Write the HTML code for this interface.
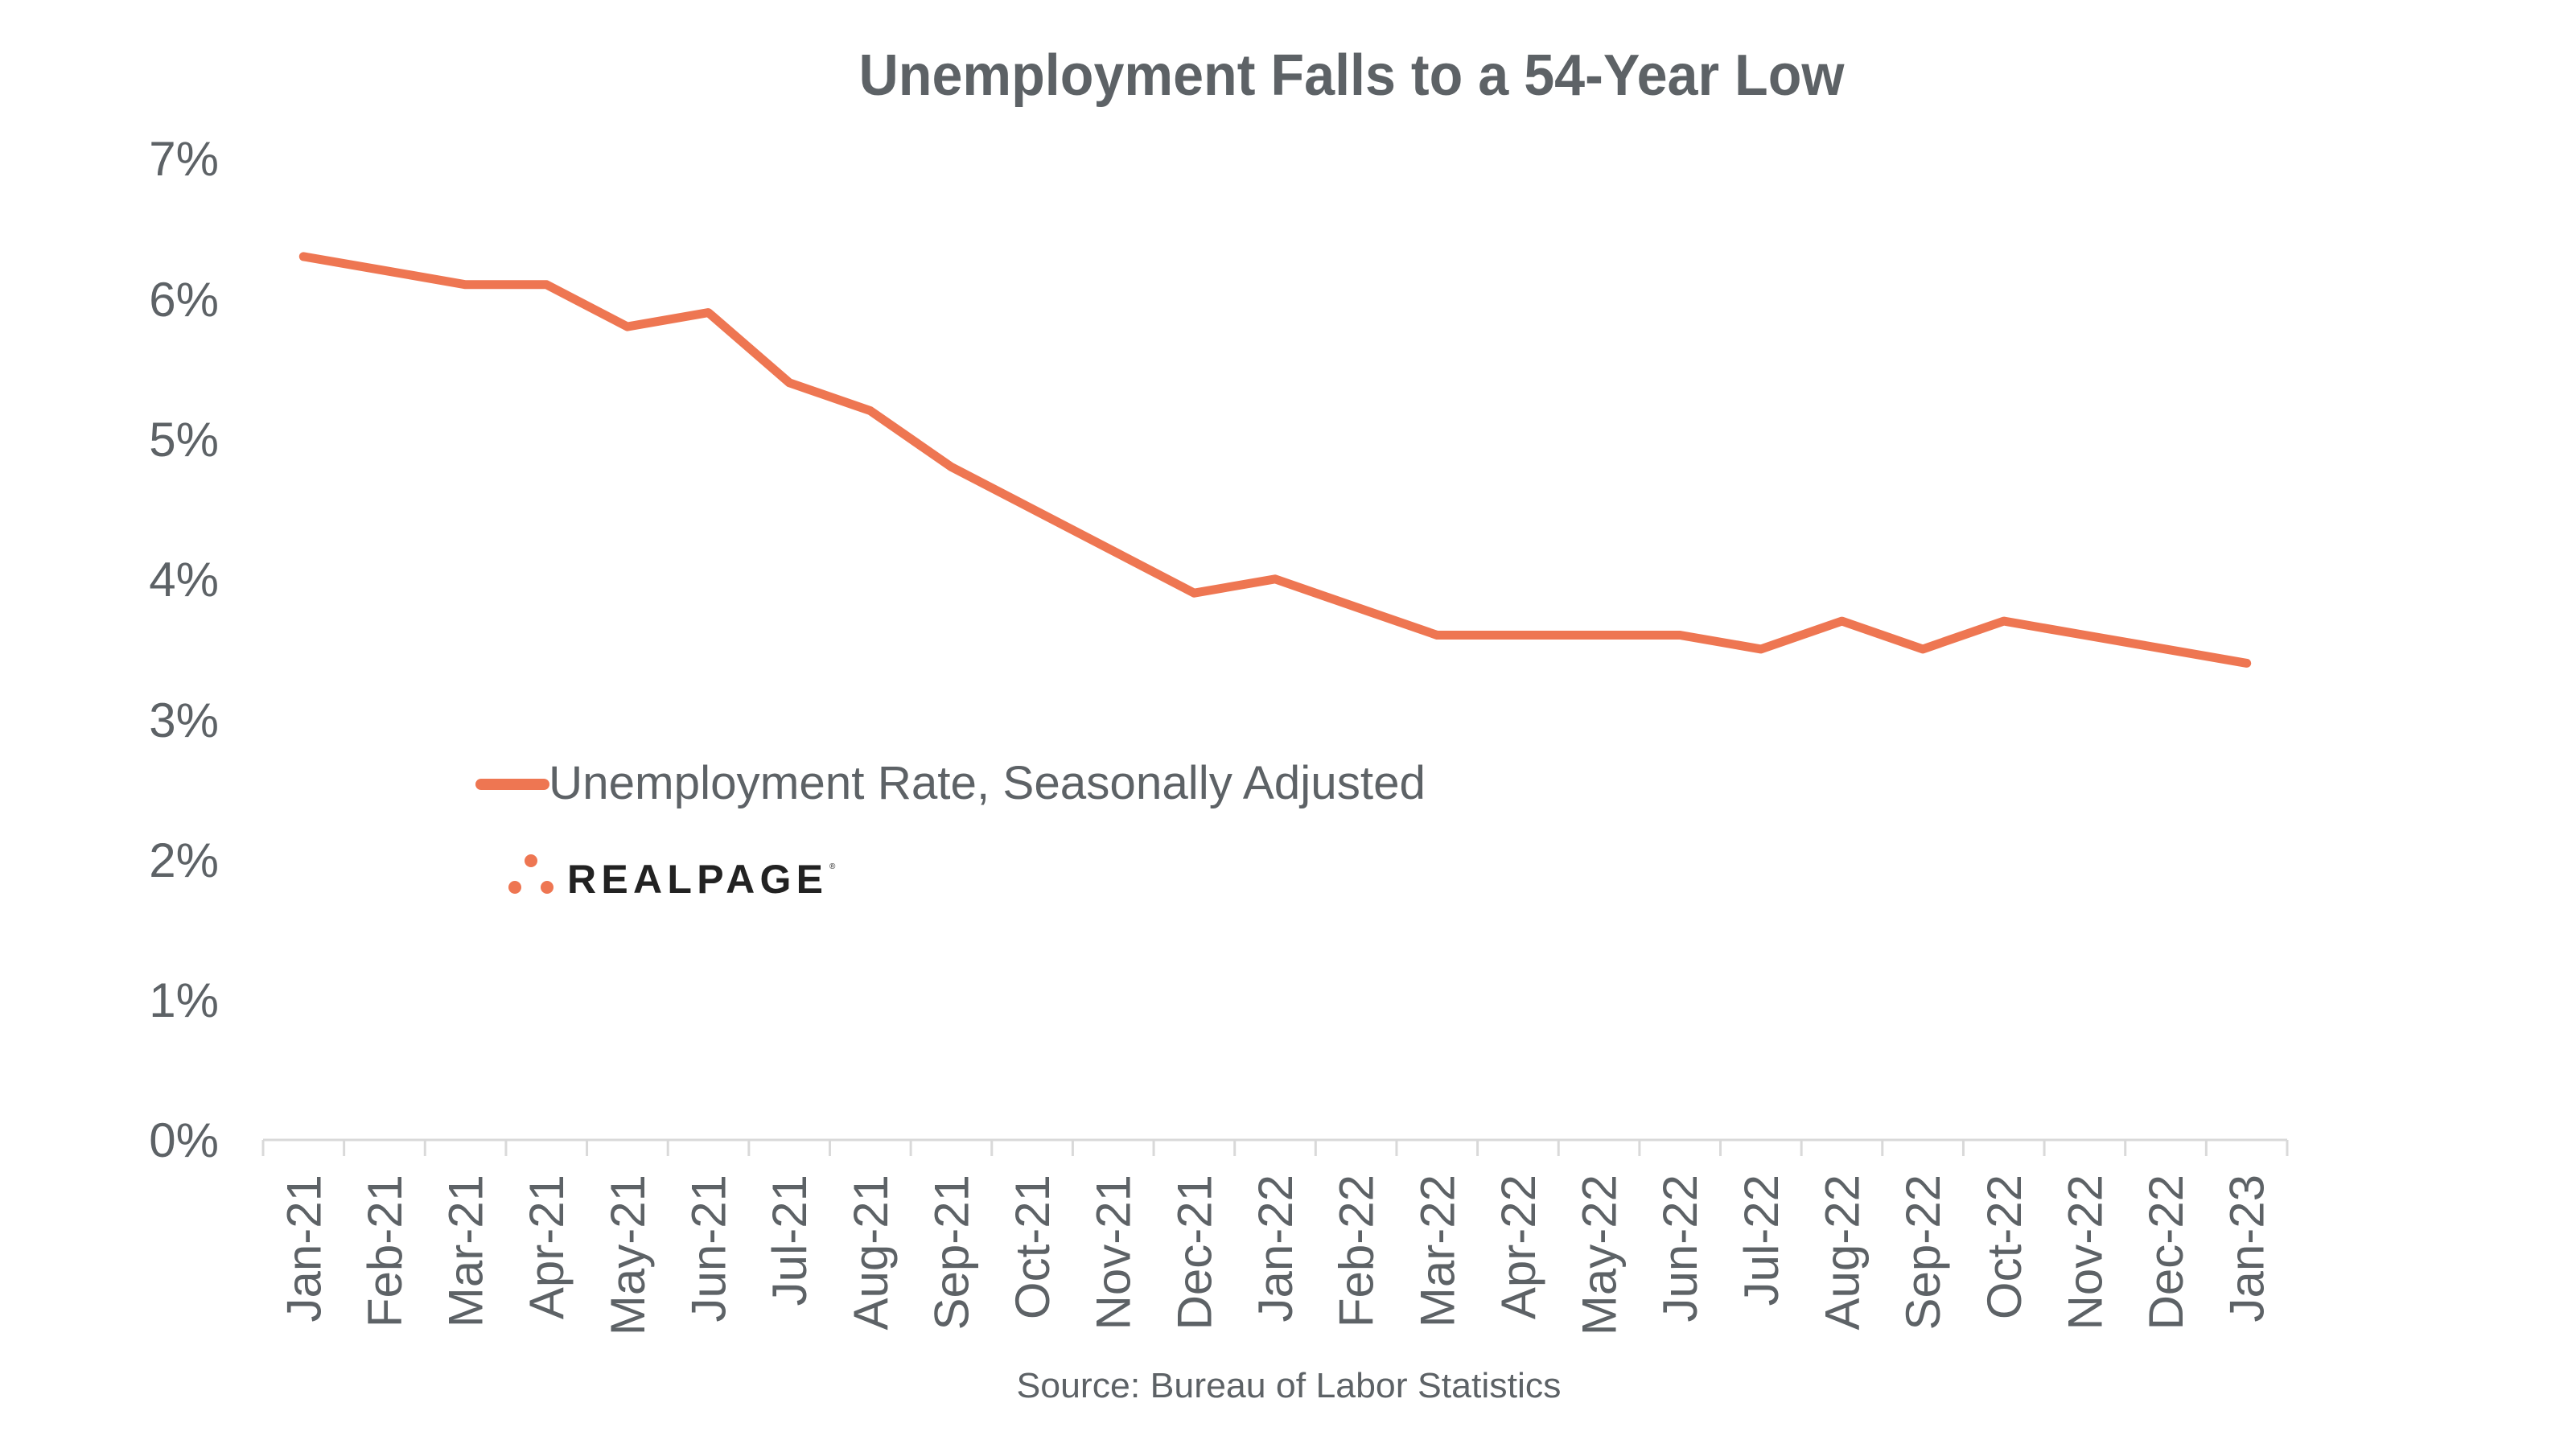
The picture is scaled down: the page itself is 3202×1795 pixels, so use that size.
<!DOCTYPE html>
<html><head><meta charset="utf-8"><style>html,body{margin:0;padding:0;background:#fff}svg{display:block}</style></head>
<body>
<svg width="3202" height="1795" viewBox="0 0 3202 1795" xmlns="http://www.w3.org/2000/svg" font-family="Liberation Sans, sans-serif" fill="#5d6266">
<text x="1680" y="118" font-size="72" font-weight="bold" text-anchor="middle" textLength="1225" lengthAdjust="spacingAndGlyphs">Unemployment Falls to a 54-Year Low</text>
<g font-size="60" text-anchor="end">
<text x="272" y="218">7%</text>
<text x="272" y="393">6%</text>
<text x="272" y="567">5%</text>
<text x="272" y="741">4%</text>
<text x="272" y="916">3%</text>
<text x="272" y="1090">2%</text>
<text x="272" y="1264">1%</text>
<text x="272" y="1438">0%</text>
</g>
<g stroke="#d9d9d9" stroke-width="3" fill="none">
<line x1="327" y1="1417" x2="2843" y2="1417"/>
</g>
<g id="tk" stroke="#d9d9d9" stroke-width="3"></g>
<g id="lb" font-size="60" text-anchor="end"></g>
<polyline id="ln" fill="none" stroke="#ee7652" stroke-width="11" stroke-linejoin="round" stroke-linecap="round" points=""/>
<line x1="598" y1="975" x2="676" y2="975" stroke="#ee7652" stroke-width="14" stroke-linecap="round"/>
<text x="682" y="993" font-size="58" textLength="1090" lengthAdjust="spacingAndGlyphs">Unemployment Rate, Seasonally Adjusted</text>
<circle cx="660" cy="1070" r="8" fill="#ee7652"/>
<circle cx="640" cy="1103" r="8" fill="#ee7652"/>
<circle cx="680" cy="1103" r="8" fill="#ee7652"/>
<text x="705" y="1110" font-size="50" font-weight="bold" fill="#222" textLength="318" lengthAdjust="spacing">REALPAGE</text>
<text x="1031" y="1080" font-size="10" fill="#222">®</text>
<text x="1602" y="1737" font-size="44" text-anchor="middle" textLength="677" lengthAdjust="spacingAndGlyphs">Source: Bureau of Labor Statistics</text>
<script>
(function(){
var ns="http://www.w3.org/2000/svg";
var v=[6.3,6.2,6.1,6.1,5.8,5.9,5.4,5.2,4.8,4.5,4.2,3.9,4.0,3.8,3.6,3.6,3.6,3.6,3.5,3.7,3.5,3.7,3.6,3.5,3.4];
var lab=["Jan-21","Feb-21","Mar-21","Apr-21","May-21","Jun-21","Jul-21","Aug-21","Sep-21","Oct-21","Nov-21","Dec-21","Jan-22","Feb-22","Mar-22","Apr-22","May-22","Jun-22","Jul-22","Aug-22","Sep-22","Oct-22","Nov-22","Dec-22","Jan-23"];
var x0=327,w=(2843-327)/25,pts=[];
var tk=document.getElementById("tk"),lb=document.getElementById("lb");
for(var i=0;i<=25;i++){var l=document.createElementNS(ns,"line");var x=x0+i*w;l.setAttribute("x1",x);l.setAttribute("x2",x);l.setAttribute("y1",1417);l.setAttribute("y2",1437);tk.appendChild(l);}
for(var i=0;i<25;i++){var cx=x0+(i+0.5)*w;pts.push(cx.toFixed(1)+","+(1417-v[i]*174.3).toFixed(1));
var t=document.createElementNS(ns,"text");var bx=cx+21;t.setAttribute("transform","translate("+bx+",1460) rotate(-90)");t.setAttribute("x",0);t.setAttribute("y",0);t.textContent=lab[i];lb.appendChild(t);}
document.getElementById("ln").setAttribute("points",pts.join(" "));
})();
</script>
</svg>
</body></html>
